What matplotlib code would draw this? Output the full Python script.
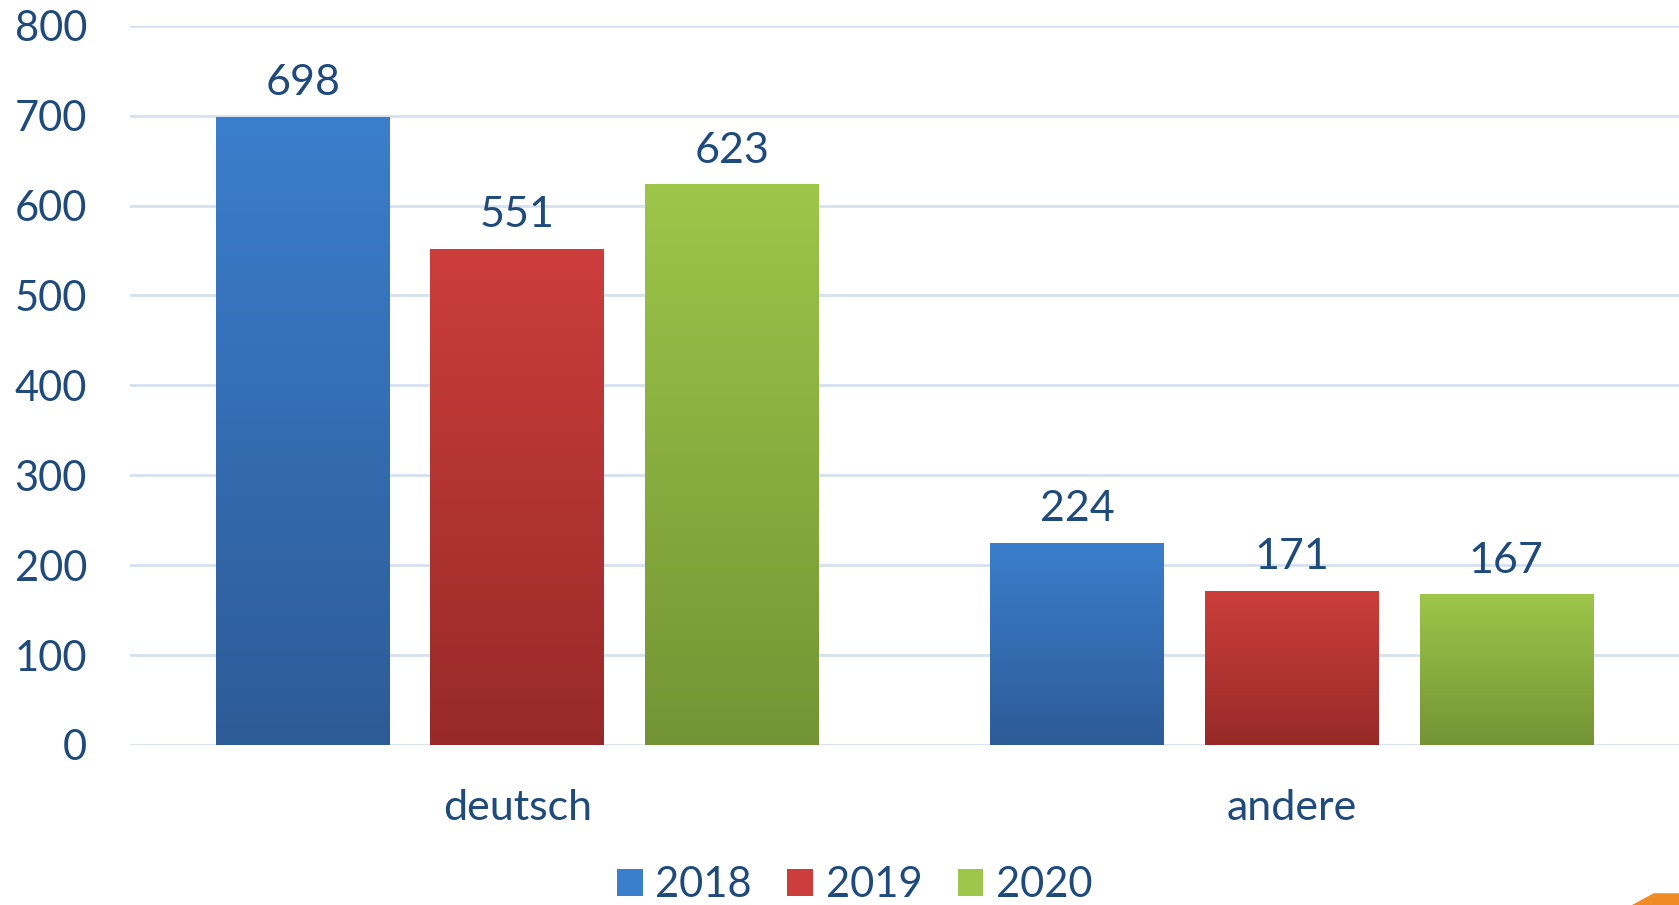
import numpy as np
import matplotlib.pyplot as plt
from matplotlib.colors import LinearSegmentedColormap
from matplotlib.patches import Patch, Polygon

plt.rcParams['font.family'] = ['Lato', 'DejaVu Sans']

categories = ['deutsch', 'andere']
years = ['2018', '2019', '2020']
values = {
    '2018': [698, 224],
    '2019': [551, 171],
    '2020': [623, 167],
}
# (top, bottom) gradient colours per series
colors = {
    '2018': ('#3B7ECC', '#2D5B97'),
    '2019': ('#CC3E3B', '#972A28'),
    '2020': ('#9DC64A', '#739434'),
}
text_color = '#1F4A7C'

fig = plt.figure(figsize=(16.79, 9.05), dpi=100)
ax = fig.add_axes([0.0774, 0.1768, 0.9226, 0.7948])

x = np.arange(len(categories))
offsets = [-0.277, 0, 0.277]
width = 0.224
grad = np.linspace(1, 0, 256).reshape(-1, 1)

for yr, off in zip(years, offsets):
    top, bottom = colors[yr]
    cmap = LinearSegmentedColormap.from_list(yr, [bottom, top])
    for xi, v in zip(x, values[yr]):
        x0 = xi + off - width / 2
        ax.imshow(grad, extent=[x0, x0 + width, 0, v], aspect='auto',
                  cmap=cmap, vmin=0, vmax=1, zorder=3, interpolation='bicubic')
        ax.text(xi + off, v + 17, str(v), ha='center', va='bottom',
                fontsize=31, color=text_color, zorder=4)

ax.set_xlim(-0.5, 1.5)
ax.set_ylim(0, 800)
ax.set_yticks(range(0, 801, 100))
ax.grid(axis='y', color='#D6E1EF', linewidth=2, zorder=0)
ax.set_axisbelow(True)
for s in ax.spines.values():
    s.set_visible(False)
ax.tick_params(axis='y', length=0, pad=31, labelsize=30, labelcolor=text_color)
ax.set_xticks(x)
ax.set_xticklabels(categories)
ax.tick_params(axis='x', length=0, pad=32, labelsize=31, labelcolor=text_color)

handles = [Patch(facecolor=colors[yr][0], edgecolor='none') for yr in years]
fig.legend(handles, years, loc='center', bbox_to_anchor=(0.509, 0.022),
           ncol=3, frameon=False, fontsize=30, labelcolor=text_color,
           handlelength=0.62, handleheight=0.62, handletextpad=0.3,
           columnspacing=0.85, borderpad=0.1)

# small orange logo corner
fig.patches.append(Polygon([[0.972, 0.0], [0.985, 0.013], [1.0, 0.013], [1.0, 0.0]],
                           closed=True, transform=fig.transFigure,
                           facecolor='#F08A24', edgecolor='none'))

fig.savefig('out.png', dpi=100)
